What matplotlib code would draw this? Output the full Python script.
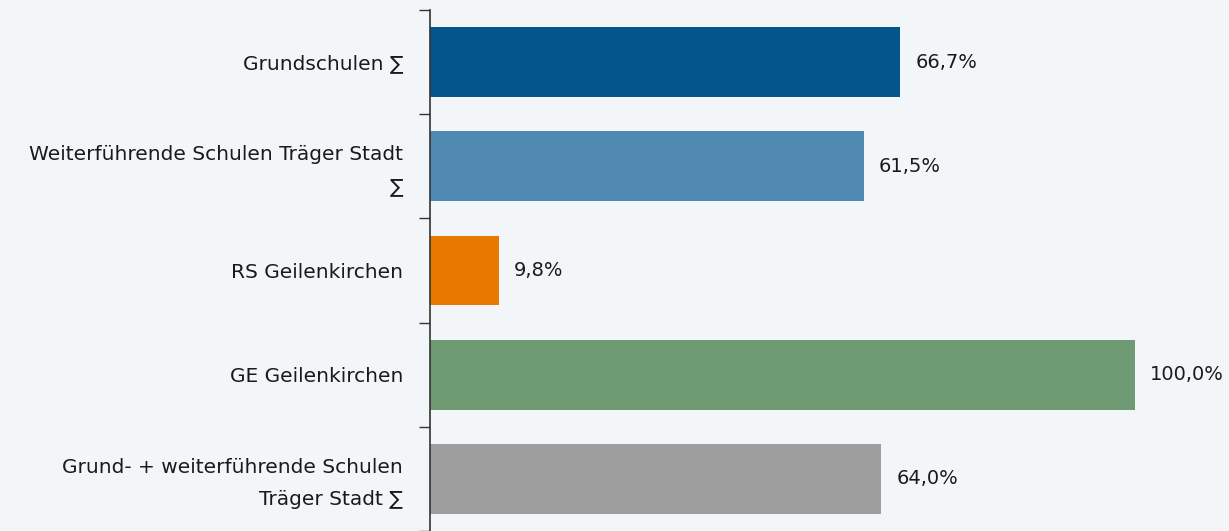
import matplotlib
matplotlib.use("Agg")
import matplotlib.pyplot as plt
from matplotlib.transforms import ScaledTranslation

categories = ["Grundschulen ∑", "Weiterführende Schulen Träger Stadt\n∑", "RS Geilenkirchen",
              "GE Geilenkirchen", "Grund- + weiterführende Schulen\nTräger Stadt ∑"]
values = [66.7, 61.5, 9.8, 100.0, 64.0]
value_labels = ["66,7%", "61,5%", "9,8%", "100,0%", "64,0%"]
colors = ["#03558a", "#5089b1", "#e87800", "#6e9a74", "#9e9e9e"]

bg = "#f3f6f9"
plt.rcParams['font.family'] = ['DejaVu Sans']

W, H = 1229, 531
fig = plt.figure(figsize=(W/100, H/100), dpi=100, facecolor=bg)
left, right, top, bottom = 430, 1229, 10, 531
ax = fig.add_axes([left/W, 1-bottom/H, (right-left)/W, (bottom-top)/H], facecolor=bg)

n = len(categories)
ypos = list(range(n))
ax.barh(ypos, values, height=0.67, color=colors)
ax.set_ylim(n-0.5, -0.5)
ax.set_xlim(0, 100*(right-left)/(1135-left))

for y, v, lab in zip(ypos, values, value_labels):
    ax.annotate(lab, (v, y), xytext=(15, 0), textcoords="offset pixels",
                va="center", ha="left", fontsize=14, color="#1a1a1a")

ax.set_yticks(ypos)
ax.set_yticklabels(categories, fontsize=14.5, color="#1a1a1a", linespacing=1.85)
ax.tick_params(axis='y', length=0, pad=19.5)
for lbl, cat in zip(ax.get_yticklabels(), categories):
    if "\n" in cat:
        lbl.set_transform(lbl.get_transform() + ScaledTranslation(0, 4/100, fig.dpi_scale_trans))
ax.set_yticks([i-0.5 for i in range(n+1)], minor=True)
ax.tick_params(axis='y', which='minor', length=8, width=1, color="#333333")
ax.set_xticks([])
for s in ["top", "right", "bottom"]:
    ax.spines[s].set_visible(False)
ax.spines["left"].set_color("#333333")
ax.spines["left"].set_linewidth(1.2)

fig.savefig("out.png", dpi=100, facecolor=bg)
